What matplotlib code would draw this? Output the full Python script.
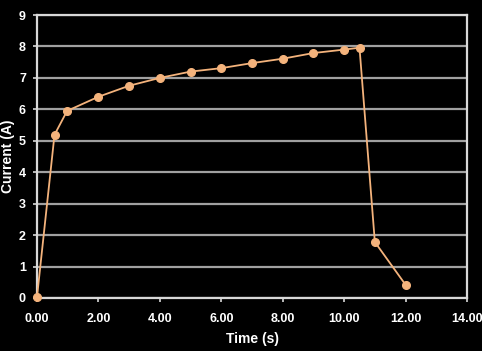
import matplotlib
matplotlib.use("Agg")
import matplotlib.pyplot as plt

time_s = [0.0, 0.57, 0.98, 2.0, 3.0, 4.0, 5.0, 6.0, 7.0, 8.0, 9.0, 10.0, 10.5, 11.0, 12.0]
current_a = [0.03, 5.19, 5.95, 6.40, 6.75, 7.0, 7.20, 7.31, 7.47, 7.61, 7.79, 7.90, 7.96, 1.78, 0.42]
x_ticks = [0, 2, 4, 6, 8, 10, 12, 14]
y_ticks = [0, 1, 2, 3, 4, 5, 6, 7, 8, 9]

plt.rcParams['font.family'] = ['Liberation Sans', 'DejaVu Sans']
fig = plt.figure(figsize=(4.82, 3.51), dpi=100, facecolor='black')
ax = fig.add_axes([37/482, 53/351, 430/482, 283/351], facecolor='black')

orange = '#F4B37C'
ax.plot(time_s, current_a, color=orange, lw=1.3, marker='o', ms=5.5, mfc=orange, mec=orange, zorder=3, clip_on=False)

ax.set_xlim(0, 14)
ax.set_ylim(0, 9)
ax.set_xticks(x_ticks)
ax.set_xticklabels([f"{v:.2f}" for v in x_ticks])
ax.set_yticks(y_ticks)
ax.yaxis.grid(True, color='#a0a0a0', lw=1.6)
ax.set_axisbelow(True)
for s in ax.spines.values():
    s.set_color('#d8d8d8')
    s.set_linewidth(1.6)
ax.tick_params(colors='#d8d8d8', length=3, width=1.2, direction='out')
for lbl in ax.get_xticklabels() + ax.get_yticklabels():
    lbl.set_color('white')
    lbl.set_fontweight('bold')
    lbl.set_fontsize(9)
ax.tick_params(axis='x', pad=8)
ax.tick_params(axis='y', pad=5)
ax.set_xlabel('Time (s)', color='white', fontweight='bold', fontsize=10, labelpad=5)
ax.set_ylabel('Current (A)', color='white', fontweight='bold', fontsize=10, labelpad=3)

fig.savefig('out.png', dpi=100, facecolor='black')
